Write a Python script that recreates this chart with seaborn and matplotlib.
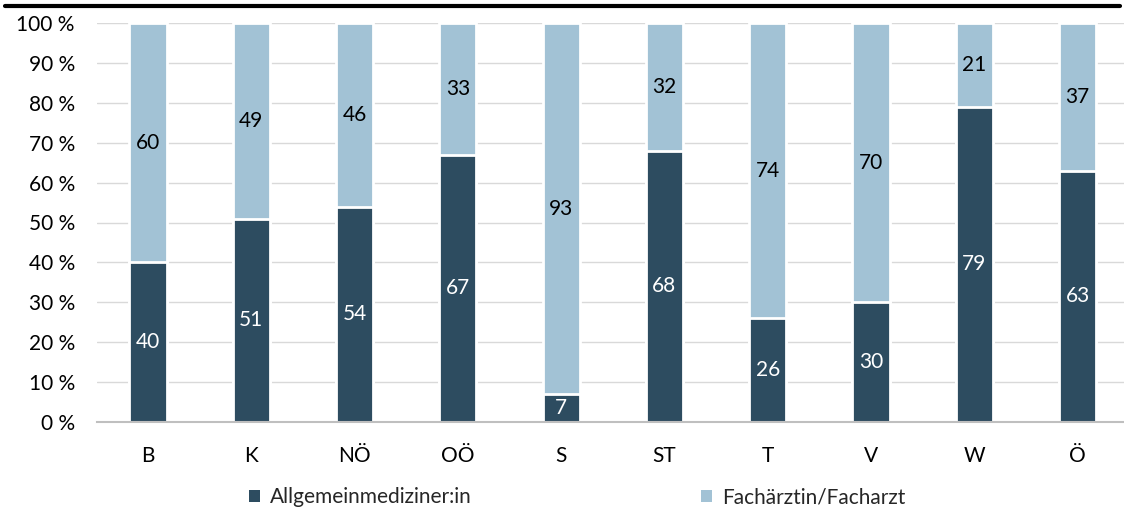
import pandas as pd
import matplotlib.pyplot as plt
import seaborn as sns
from matplotlib.lines import Line2D
from matplotlib.patches import Patch

regions = ['B', 'K', 'NÖ', 'OÖ', 'S', 'ST', 'T', 'V', 'W', 'Ö']
allgemein = [40, 51, 54, 67, 7, 68, 26, 30, 79, 63]
facharzt = [60, 49, 46, 33, 93, 32, 74, 70, 21, 37]
series_names = ['Allgemeinmediziner:in', 'Fachärztin/Facharzt']

dark = '#2D4C60'
light = '#A2C2D5'

df = pd.DataFrame({'region': regions, 'allgemein': allgemein, 'facharzt': facharzt})
df['total'] = df['allgemein'] + df['facharzt']

sns.set_theme(style='white')
plt.rcParams['font.family'] = ['Lato', 'DejaVu Sans']
fs = 15

fig = plt.figure(figsize=(11.24, 5.16), dpi=100)
ax = fig.add_axes([97 / 1124, 1 - 422 / 516, 1 - 97 / 1124, 399 / 516])

# light segment drawn as full stack, dark on top
sns.barplot(data=df, x='region', y='total', color=light, width=0.36,
            saturation=1, edgecolor='white', linewidth=2, ax=ax, zorder=3)
sns.barplot(data=df, x='region', y='allgemein', color=dark, width=0.36,
            saturation=1, edgecolor='white', linewidth=2, ax=ax, zorder=4)

light_bars = ax.containers[0]
dark_bars = ax.containers[1]
ax.bar_label(dark_bars, labels=[str(v) for v in allgemein], label_type='center',
             color='white', fontsize=fs, zorder=5)
for bar, v in zip(light_bars, facharzt):
    base = bar.get_height() - v
    ax.text(bar.get_x() + bar.get_width() / 2, base + v / 2, str(v),
            ha='center', va='center', fontsize=fs, color='black', zorder=5)

ax.set_ylim(0, 100)
ax.set_xlim(-0.494, 9.45)
ax.set_yticks(range(0, 101, 10))
ax.set_yticklabels([f'{t} %' for t in range(0, 101, 10)])
ax.yaxis.grid(True, color='#D9D9D9', linewidth=1)
ax.set_axisbelow(True)
ax.set_xlabel('')
ax.set_ylabel('')
for s in ['top', 'right', 'left']:
    ax.spines[s].set_visible(False)
ax.spines['bottom'].set_color('#BFBFBF')
ax.spines['bottom'].set_linewidth(1.5)
ax.spines['bottom'].set_zorder(6)
ax.tick_params(axis='x', length=0, pad=17, labelsize=fs, colors='black')
ax.tick_params(axis='y', length=0, pad=16, labelsize=fs, colors='black')

# black line across the top of the figure
fig.add_artist(Line2D([5 / 1124, 1120 / 1124], [1 - 6 / 516, 1 - 6 / 516],
                      color='black', linewidth=3, transform=fig.transFigure))

handles = [Patch(facecolor=dark, edgecolor='none'), Patch(facecolor=light, edgecolor='none')]
fig.legend(handles, series_names, loc='center left', bbox_to_anchor=(239 / 1124, 1 - 497 / 516),
           ncol=2, frameon=False, fontsize=fs, handlelength=0.5, handleheight=0.5,
           handletextpad=0.5, columnspacing=11.0, borderpad=0)

fig.savefig('out.png', dpi=100)
